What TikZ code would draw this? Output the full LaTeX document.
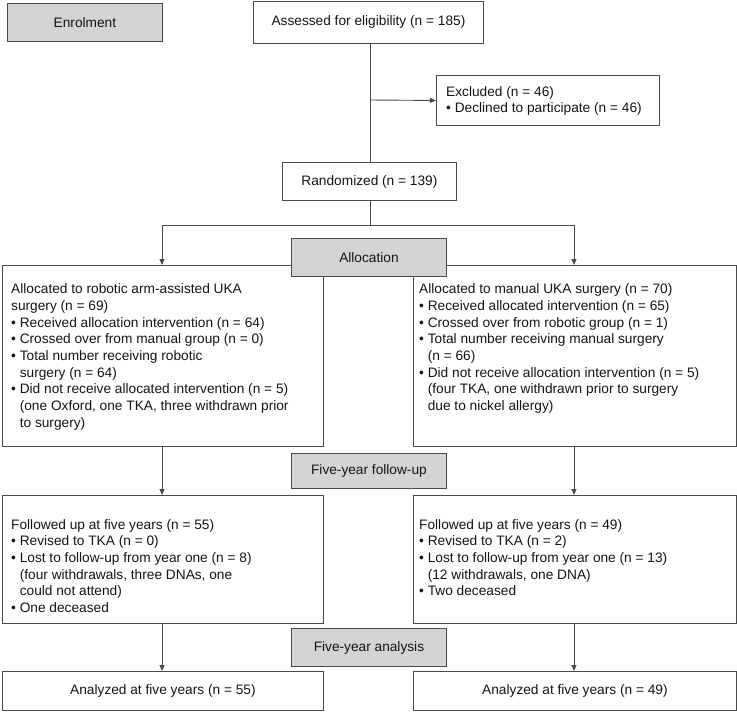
\documentclass[tikz,border=0pt]{standalone}
\usepackage{fontspec}
\setmainfont{Liberation Sans}
\usetikzlibrary{arrows.meta}
\definecolor{linec}{HTML}{4A4A4A}
\definecolor{boxfill}{HTML}{D4D4D4}
\tikzset{
  box/.style={draw=linec, line width=0.9pt, rectangle, inner sep=0pt, anchor=north west},
  graybox/.style={box, fill=boxfill},
  txt/.style={inner sep=0pt, anchor=north west, align=left, font=\fontsize{13.7}{16.7}\selectfont, text=black!92},
  ctxt/.style={inner sep=0pt, anchor=center, font=\fontsize{13.7}{16.7}\selectfont, text=black!92},
  conn/.style={draw=linec, line width=0.9pt},
  arr/.style={conn, -{Triangle[length=6pt,width=5pt]}}
}
\newcommand{\bul}{\textbullet\ }
\newcommand{\ind}{\hphantom{\textbullet\ }}
\begin{document}
\begin{tikzpicture}[x=1pt,y=-1pt]
\useasboundingbox (0,0) rectangle (737,721);
% enrolment
\node[graybox, minimum width=155pt, minimum height=38pt] (enrol) at (7,3) {};
\node[ctxt] (enrolt) at (enrol.center) {Enrolment};
\node[box, minimum width=230pt, minimum height=42pt] (assess) at (253,0.5) {};
\node[ctxt] (assesst) at (assess.center) {Assessed for eligibility (n = 185)};
\node[box, minimum width=223pt, minimum height=50pt] (excl) at (436,75) {};
\node[txt] (exclt) at (446,86) {Excluded (n = 46)\\\bul Declined to participate (n = 46)};
\node[box, minimum width=174pt, minimum height=38pt] (rand) at (282,162) {};
\node[ctxt] (randt) at (rand.center) {Randomized (n = 139)};
\coordinate (ex) at (370,100);
\draw[conn] (assess.south -| ex) -- (rand.north -| ex);
\draw[arr] (ex) -- (excl.west);
% allocation
\coordinate (split) at (370,225);
\coordinate (sl) at (162,225);
\coordinate (sr) at (574,225);
\node[box, minimum width=321pt, minimum height=181pt] (al) at (2,265) {};
\node[box, minimum width=323pt, minimum height=181pt] (ar) at (413,265) {};
\node[graybox, minimum width=155pt, minimum height=38pt] (alloc) at (291,238) {};
\node[ctxt] (alloct) at (alloc.center) {Allocation};
\node[txt] (alt) at (11,283.5) {Allocated to robotic arm-assisted UKA\\surgery (n = 69)\\\bul Received allocation intervention (n = 64)\\\bul Crossed over from manual group (n = 0)\\\bul Total number receiving robotic\\\ind surgery (n = 64)\\\bul Did not receive allocated intervention (n = 5)\\\ind(one Oxford, one TKA, three withdrawn prior\\\ind to surgery)};
\node[txt] (art) at (419,283.5) {Allocated to manual UKA surgery (n = 70)\\\bul Received allocated intervention (n = 65)\\\bul Crossed over from robotic group (n = 1)\\\bul Total number receiving manual surgery\\\ind(n = 66)\\\bul Did not receive allocation intervention (n = 5)\\\ind(four TKA, one withdrawn prior to surgery\\\ind due to nickel allergy)};
\draw[conn] (rand.south -| split) -- (split);
\draw[conn] (sl) -- (sr);
\draw[arr] (sl) -- (al.north -| sl);
\draw[arr] (sr) -- (ar.north -| sr);
% follow-up
\node[graybox, minimum width=155pt, minimum height=35pt] (fu) at (291,453) {};
\node[ctxt] (fut) at (fu.center) {Five-year follow-up};
\node[box, minimum width=321pt, minimum height=128pt] (fl) at (2,495) {};
\node[box, minimum width=323pt, minimum height=128pt] (fr) at (413,495) {};
\node[txt] (flt) at (11,519) {Followed up at five years (n = 55)\\\bul Revised to TKA (n = 0)\\\bul Lost to follow-up from year one (n = 8)\\\ind(four withdrawals, three DNAs, one\\\ind could not attend)\\\bul One deceased};
\node[txt] (frt) at (419,519) {Followed up at five years (n = 49)\\\bul Revised to TKA (n = 2)\\\bul Lost to follow-up from year one (n = 13)\\\ind(12 withdrawals, one DNA)\\\bul Two deceased};
\draw[arr] (al.south -| sl) -- (fl.north -| sl);
\draw[arr] (ar.south -| sr) -- (fr.north -| sr);
% analysis
\node[graybox, minimum width=155pt, minimum height=38pt] (an) at (291,628) {};
\node[ctxt] (ant) at (an.center) {Five-year analysis};
\node[box, minimum width=321pt, minimum height=39pt] (nl) at (2,671) {};
\node[box, minimum width=323pt, minimum height=39pt] (nr) at (413,671) {};
\node[ctxt] (nlt) at (nl.center) {Analyzed at five years (n = 55)};
\node[ctxt] (nrt) at (nr.center) {Analyzed at five years (n = 49)};
\draw[arr] (fl.south -| sl) -- (nl.north -| sl);
\draw[arr] (fr.south -| sr) -- (nr.north -| sr);
\end{tikzpicture}
\end{document}
